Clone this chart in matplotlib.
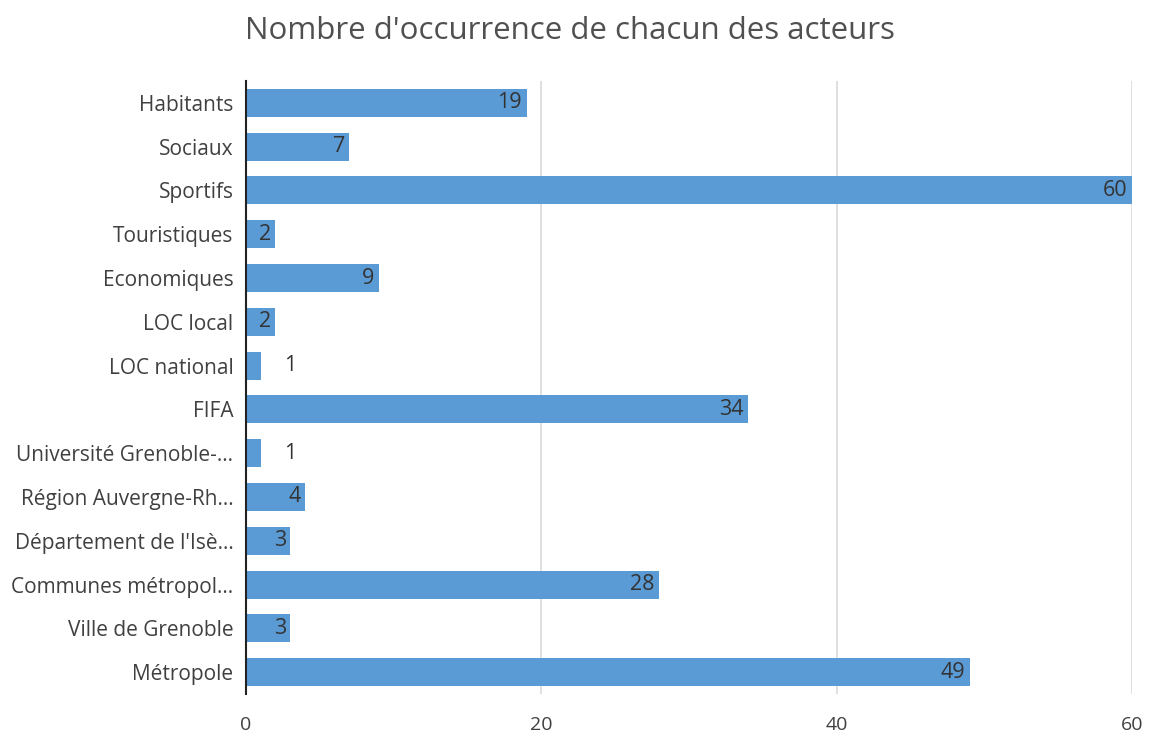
import numpy as np
import matplotlib.pyplot as plt

# données
acteurs = [
    "Habitants", "Sociaux", "Sportifs", "Touristiques", "Economiques",
    "LOC local", "LOC national", "FIFA", "Université Grenoble-...",
    "Région Auvergne-Rh...", "Département de l'Isè...",
    "Communes métropol...", "Ville de Grenoble", "Métropole",
]
occurrences = [19, 7, 60, 2, 9, 2, 1, 34, 1, 4, 3, 28, 3, 49]

plt.rcParams["font.family"] = ["Open Sans", "DejaVu Sans"]

fig = plt.figure(figsize=(11.52, 7.36), dpi=100)
ax = fig.add_axes([0.2135, 0.057, 0.7691, 0.833])

y = np.arange(len(acteurs))
ax.barh(y, occurrences, height=0.64, color="#5B9BD5", zorder=2)
ax.set_yticks(y)
ax.set_yticklabels(acteurs, fontsize=15, color="#404040")
ax.set_ylim(len(acteurs) - 0.5, -0.5)
ax.set_xlim(0, 60)
ax.set_xticks([0, 20, 40, 60])
ax.tick_params(axis="x", labelsize=14, colors="#404040", length=0, pad=16)
ax.tick_params(axis="y", length=0, pad=9)

ax.grid(axis="x", color="#d9d9d9", linewidth=1.2, zorder=0)
for s in ["top", "right", "bottom"]:
    ax.spines[s].set_visible(False)
ax.spines["left"].set_color("#222222")
ax.spines["left"].set_linewidth(1.5)
ax.spines["left"].set_zorder(3)

for i, v in enumerate(occurrences):
    if v > 1:
        ax.text(v - 0.3, i, str(v), ha="right", va="center",
                fontsize=15.5, color="#333333", zorder=4)
    else:
        ax.text(v + 2.0, i, str(v), ha="center", va="center",
                fontsize=15.5, color="#333333", zorder=4)

fig.suptitle("Nombre d'occurrence de chacun des acteurs", x=0.495, y=0.978,
             fontsize=22.5, color="#505050")

fig.savefig("out.png", dpi=100)
